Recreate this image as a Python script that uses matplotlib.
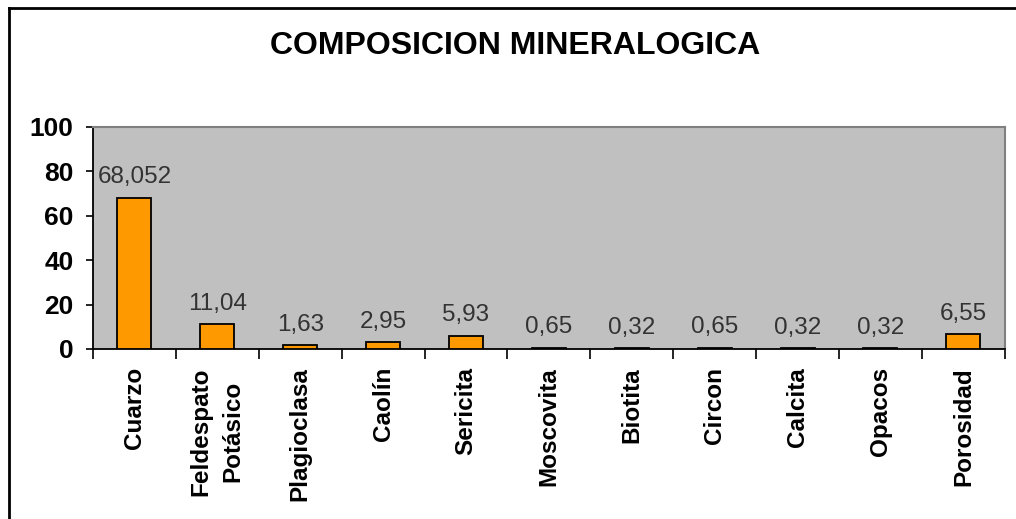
import numpy as np
import matplotlib.pyplot as plt
from matplotlib.lines import Line2D

plt.rcParams['font.family'] = ['Liberation Sans', 'DejaVu Sans']

# Datos
minerales = ['Cuarzo', 'Feldespato\nPotásico', 'Plagioclasa', 'Caolín', 'Sericita',
             'Moscovita', 'Biotita', 'Circon', 'Calcita', 'Opacos', 'Porosidad']
porcentajes = [68.052, 11.04, 1.63, 2.95, 5.93, 0.65, 0.32, 0.65, 0.32, 0.32, 6.55]
etiquetas = ['68,052', '11,04', '1,63', '2,95', '5,93', '0,65', '0,32', '0,65', '0,32', '0,32', '6,55']

fig = plt.figure(figsize=(10.16, 5.19), dpi=100)
ax = fig.add_axes([0.0915, 0.3276, 0.8975, 0.4277])

x = np.arange(len(minerales))
ax.bar(x, porcentajes, width=0.41, color='#FF9900', edgecolor='black', linewidth=1.3, zorder=3)

for xi, v, t in zip(x, porcentajes, etiquetas):
    ax.annotate(t, (xi, v), xytext=(0, 7), textcoords='offset points',
                ha='center', va='bottom', fontsize=17.5, color='#333333')

ax.set_facecolor('#C0C0C0')
ax.set_xlim(-0.5, len(minerales) - 0.5)
ax.set_ylim(0, 100)
ax.set_yticks(range(0, 101, 20))
ax.tick_params(axis='y', length=5, width=1.2, labelsize=19, pad=9)
for lbl in ax.get_yticklabels():
    lbl.set_fontweight('bold')

ax.set_xticks(x)
ax.set_xticklabels(minerales, rotation=90, fontsize=17.5, fontweight='bold',
                   ha='center', va='top', multialignment='center', linespacing=1.5)
ax.tick_params(axis='x', which='major', length=0, pad=13)
ax.set_xticks(np.arange(-0.5, len(minerales)), minor=True)
ax.tick_params(axis='x', which='minor', length=7, width=1.2, direction='out')

ax.spines['left'].set_color('black')
ax.spines['bottom'].set_color('black')
ax.spines['left'].set_linewidth(1.3)
ax.spines['bottom'].set_linewidth(1.3)
ax.spines['top'].set_color('#808080')
ax.spines['right'].set_color('#808080')
ax.spines['top'].set_linewidth(1.5)
ax.spines['right'].set_linewidth(1.5)

fig.text(0.507, 0.912, 'COMPOSICION MINERALOGICA', ha='center', va='center',
         fontsize=23, fontweight='bold')

# marco del grafico (izquierda y arriba)
fig.add_artist(Line2D([0.0085, 0.0085], [0, 0.984], color='black', linewidth=2, transform=fig.transFigure))
fig.add_artist(Line2D([0.0085, 1.0], [0.984, 0.984], color='black', linewidth=2, transform=fig.transFigure))

fig.savefig('out.png', dpi=100)
